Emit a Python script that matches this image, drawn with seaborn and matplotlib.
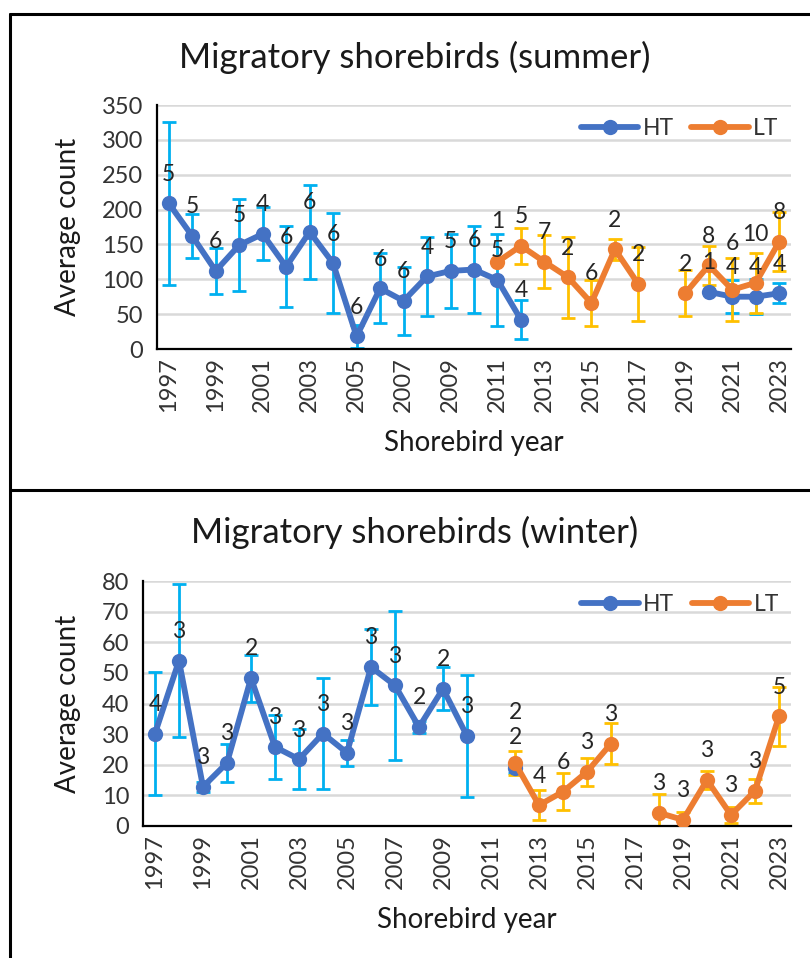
import numpy as np
import pandas as pd
import seaborn as sns
import matplotlib.pyplot as plt
from matplotlib.lines import Line2D

nan = np.nan

YEARS = list(range(1997, 2024))
TICK_YEARS = YEARS[::2]

# ---- summer: means, SDs, counts (n) per shorebird year ----
SUMMER_HT_MEAN = [209, 162, 112, 149, 165, 118, 168, 123, 18, 87, 69, 104, 112, 114, 99, 42,
                  nan, nan, nan, nan, nan, nan, nan, 82, 75, 75, 80]
SUMMER_HT_SD = [117, 32, 33, 66, 38, 58, 67, 72, 16, 50, 49, 57, 53, 63, 66, 28,
                nan, nan, nan, nan, nan, nan, nan, nan, 24, 25, 14]
SUMMER_HT_N = [5, 5, 6, 5, 4, 6, 6, 6, 6, 6, 6, 4, 5, 6, 5, 4,
               nan, nan, nan, nan, nan, nan, nan, 1, 4, 4, 4]

SUMMER_LT_MEAN = [nan] * 14 + [125, 148, 125, 103, 66, 143, 93, nan, 80, 120, 85, 95, 154]
SUMMER_LT_SD = [nan] * 14 + [nan, 26, 38, 58, 33, 15, 53, nan, 33, 28, 45, 43, 42]
SUMMER_LT_N = [nan] * 14 + [1, 5, 7, 2, 6, 2, 2, nan, 2, 8, 6, 10, 8]

# ---- winter ----
WINTER_HT_MEAN = [30.2, 54, 12.8, 20.6, 48.3, 25.8, 21.8, 30.2, 23.9, 51.9, 45.9, 32.3, 44.8, 29.4,
                  nan, 18.8] + [nan] * 11
WINTER_HT_SD = [20, 25, 1.6, 6.1, 7.7, 10.3, 9.8, 18, 4.2, 12.5, 24.3, 2, 7, 20,
                nan, 1.5] + [nan] * 11
WINTER_HT_N = [4, 3, 3, 3, 2, 3, 3, 3, 3, 3, 3, 2, 2, 3, nan, 2] + [nan] * 11

WINTER_LT_MEAN = [nan] * 15 + [20.6, 6.8, 11.2, 17.7, 26.9, nan, 4.3, 2.0, 15, 3.6, 11.5, 35.8]
WINTER_LT_SD = [nan] * 15 + [3.9, 5, 6, 4.6, 6.8, nan, 6.1, 2.7, 3, 2.5, 4, 9.6]
WINTER_LT_N = [nan] * 15 + [2, 4, 6, 3, 3, nan, 3, 3, 3, 3, 3, 5]

SERIES = ['HT', 'LT']
LINE_COLORS = {'HT': '#4472C4', 'LT': '#ED7D31'}
ERR_COLORS = {'HT': '#00B0F0', 'LT': '#FFC000'}

# extra lift (points) for a few labels that were moved by hand in the original
LABEL_NUDGE = {('summer', 'LT', 2011): 8, ('summer', 'LT', 2021): 12, ('summer', 'LT', 2022): 14,
               ('winter', 'HT', 2012): 19, ('winter', 'LT', 2012): -3}

FS = 17
TEXT = '#333333'


def build_frame(ht_mean, ht_sd, ht_n, lt_mean, lt_sd, lt_n):
    parts = []
    for name, m, s, n in [('HT', ht_mean, ht_sd, ht_n), ('LT', lt_mean, lt_sd, lt_n)]:
        d = pd.DataFrame({'year': YEARS, 'pos': np.arange(len(YEARS)), 'mean': m, 'sd': s, 'n': n})
        d['series'] = name
        d['segment'] = name + d['mean'].isna().cumsum().astype(str)
        parts.append(d.dropna(subset=['mean']))
    return pd.concat(parts, ignore_index=True)


def draw_panel(ax, df, season, ymax, ystep):
    for name in SERIES:
        sub = df[df['series'] == name]
        ax.errorbar(sub['pos'], sub['mean'], yerr=sub['sd'], fmt='none', ecolor=ERR_COLORS[name],
                    elinewidth=2.0, capsize=5, capthick=2.0, zorder=2)
    sns.lineplot(data=df, x='pos', y='mean', hue='series', hue_order=SERIES, palette=LINE_COLORS,
                 units='segment', estimator=None, sort=False, marker='o', markersize=11,
                 markeredgewidth=0, linewidth=4.2, legend=False, ax=ax, zorder=3)
    for _, r in df.iterrows():
        lift = 21 + LABEL_NUDGE.get((season, r['series'], int(r['year'])), 0)
        ax.annotate(str(int(r['n'])), (r['pos'], r['mean']), xytext=(0, lift),
                    textcoords='offset points', ha='center', va='center', fontsize=FS - 0.5,
                    color='#262626', zorder=5, annotation_clip=False)

    ax.set_xlim(-0.5, len(YEARS) - 0.5)
    ax.set_ylim(0, ymax)
    ax.set_yticks(np.arange(0, ymax + 1, ystep))
    ax.set_xticks([YEARS.index(y) for y in TICK_YEARS])
    ax.set_xticklabels([str(y) for y in TICK_YEARS], rotation=90)
    ax.set_xticks(np.arange(-0.5, len(YEARS), 1), minor=True)
    ax.tick_params(axis='x', which='major', length=0, pad=6, labelsize=FS, labelcolor=TEXT)
    ax.tick_params(axis='x', which='minor', length=5, width=1.5, direction='out', color='black')
    ax.tick_params(axis='y', length=5, width=1.5, direction='out', labelsize=FS, labelcolor=TEXT, pad=5)
    ax.yaxis.grid(True, color='#D9D9D9', linewidth=1.8)
    ax.xaxis.grid(False)
    ax.set_axisbelow(True)
    for side in ['top', 'right']:
        ax.spines[side].set_visible(False)
    for side in ['left', 'bottom']:
        ax.spines[side].set_color('black')
        ax.spines[side].set_linewidth(1.6)
    ax.set_xlabel('Shorebird year', fontsize=20, color='#1a1a1a', labelpad=13)
    ax.set_ylabel('Average count', fontsize=20, color='#1a1a1a', labelpad=15)

    handles = [Line2D([0], [0], color=LINE_COLORS[s], marker='o', markersize=11, linewidth=4.2,
                      markeredgewidth=0) for s in SERIES]
    ax.legend(handles, SERIES, loc='upper right', bbox_to_anchor=(1.013, 1.03), ncol=2, frameon=False,
              fontsize=FS - 0.5, handlelength=2.5, handletextpad=0.2, columnspacing=0.75, labelcolor=TEXT)


sns.set_theme(style='white')
plt.rcParams['font.family'] = ['Lato', 'DejaVu Sans']

W, H = 810, 958
fig = plt.figure(figsize=(W / 100, H / 100), dpi=100)


def px_axes(left, top, right, bottom):
    return fig.add_axes([left / W, 1 - bottom / H, (right - left) / W, (bottom - top) / H])


ax1 = px_axes(157, 105, 791, 349)
summer = build_frame(SUMMER_HT_MEAN, SUMMER_HT_SD, SUMMER_HT_N, SUMMER_LT_MEAN, SUMMER_LT_SD, SUMMER_LT_N)
draw_panel(ax1, summer, 'summer', 350, 50)

ax2 = px_axes(143, 581, 791, 826)
winter = build_frame(WINTER_HT_MEAN, WINTER_HT_SD, WINTER_HT_N, WINTER_LT_MEAN, WINTER_LT_SD, WINTER_LT_N)
draw_panel(ax2, winter, 'winter', 80, 10)

fig.text(415 / W, 1 - 57 / H, 'Migratory shorebirds (summer)', ha='center', va='center',
         fontsize=25, color='#1a1a1a')
fig.text(415 / W, 1 - 532 / H, 'Migratory shorebirds (winter)', ha='center', va='center',
         fontsize=25, color='#1a1a1a')

# chart frames
for x0, y0, x1, y1 in [(10, 14, 810, 14), (10, 490, 810, 490), (10, 14, 10, 958)]:
    fig.add_artist(Line2D([x0 / W, x1 / W], [1 - y0 / H, 1 - y1 / H], color='black', linewidth=2.2))

fig.savefig('out.png', dpi=100)
